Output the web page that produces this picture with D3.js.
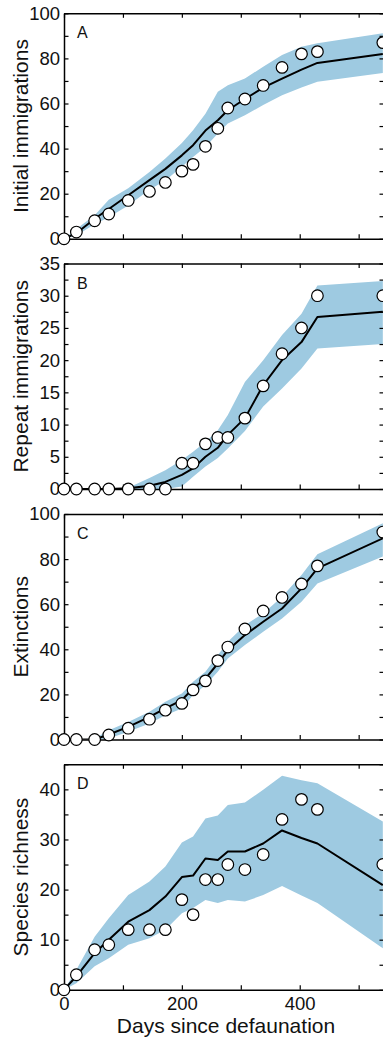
<!DOCTYPE html>
<html>
<head>
<meta charset="utf-8">
<script src="https://cdn.jsdelivr.net/npm/d3@7"></script>
<style>
  body { margin: 0; background: #fff; }
  svg { display: block; font-family: "Liberation Sans", Arial, sans-serif; }
</style>
</head>
<body>
<div id="chart"></div>
<script>
// census days (shared by all panels)
var days = [0, 21, 52, 76, 109, 145, 172, 200, 219, 240, 261, 278, 307, 338, 370, 403, 430, 541];

// A: initial immigrations
var obsA   = [0, 3, 8, 11, 17, 21, 25, 30, 33, 41, 49, 58, 62, 68, 76, 82, 83, 87];
var meanA  = [0, 2.5, 8.9, 13.2, 19.3, 26, 31, 37, 41.5, 48, 52.6, 57, 62, 67, 71, 75, 78, 82];
var hiA    = [0, 4.4, 10.4, 17.3, 22.4, 29.6, 35.6, 42.5, 48.1, 55.4, 65.2, 68.1, 71.1, 76.3, 81.5, 85.2, 86.7, 91.1];
var loA    = [0, 1.5, 6.4, 9.6, 14.8, 21.8, 25.9, 31.9, 36.3, 40.7, 46.7, 51.1, 54.8, 59.3, 63.7, 67.1, 69.6, 73.5];

// B: repeat immigrations
var obsB   = [0, 0, 0, 0, 0, 0, 0, 4, 4, 7, 8, 8, 11, 16, 21, 25, 30, 30];
var meanB  = [0, 0, 0, 0, 0.1, 0.5, 1.1, 2.2, 3.2, 5, 6.4, 8.4, 11, 16.1, 20, 22.8, 26.7, 27.5];
var hiB    = [0, 0, 0, 0, 0.2, 1.7, 2.9, 4.5, 5.8, 7.3, 9.1, 11.5, 16.6, 20, 23.9, 27.2, 31.6, 32.3];
var loB    = [0, 0, 0, 0, 0, 0, 0, 0.4, 1.9, 3.5, 4.8, 6.3, 9, 12.8, 15.6, 18.7, 21.8, 22.5];

// C: extinctions
var obsC   = [0, 0, 0, 2, 5, 9, 13, 16, 22, 26, 35, 41, 49, 57, 63, 69, 77, 92];
var meanC  = [0, 0, 0, 2.2, 5.6, 10, 13.8, 17.5, 22.6, 27, 33.7, 39.6, 46.3, 52.2, 58.1, 67, 75.9, 89.2];
var hiC    = [0, 0, 0.4, 4.1, 7.8, 12.3, 16.7, 20.4, 25.6, 30, 37.4, 43.3, 50.7, 55.9, 63.3, 72.9, 82.1, 95.9];
var loC    = [0, 0, 0, 0.4, 3.4, 7.1, 10.8, 13.8, 19.7, 24.1, 30, 35.9, 41.9, 47.8, 53.7, 61.1, 69.2, 81.1];

// D: species richness
var obsD   = [0, 3, 8, 9, 12, 12, 12, 18, 15, 22, 22, 25, 24, 27, 34, 38, 36, 25];
var meanD  = [0, 2.7, 7.3, 10, 13.6, 15.9, 18.6, 22.5, 22.8, 26.2, 25.9, 27.6, 27.6, 29.2, 31.8, 30.3, 29.2, 20.9];
var hiD    = [0, 4, 10.6, 14.3, 18.9, 21.6, 24.6, 29.4, 30.6, 34.2, 34.8, 36.9, 37.4, 39.9, 42.7, 41.8, 41.2, 33.6];
var loD    = [0, 1.3, 4.7, 6.3, 9, 10.3, 12, 15.3, 16.3, 17.9, 17.3, 17.9, 17.6, 18.9, 20.7, 18.8, 17.3, 8.3];

var panels = [
  { letter: "A", title: "Initial immigrations", max: 100, minor: 10, major: 20, obs: obsA, mean: meanA, hi: hiA, lo: loA },
  { letter: "B", title: "Repeat immigrations",  max: 35,  minor: 2.5, major: 5, obs: obsB, mean: meanB, hi: hiB, lo: loB },
  { letter: "C", title: "Extinctions",          max: 100, minor: 10, major: 20, obs: obsC, mean: meanC, hi: hiC, lo: loC },
  { letter: "D", title: "Species richness",     max: 45,  minor: 5,  major: 10, obs: obsD, mean: meanD, hi: hiD, lo: loD }
];

var W = 383, H = 1038;
var left = 64, right = 384;
var panelTop = [13.3, 263.5, 514, 764.3], panelH = 225.5;
var tickLen = 4.5;

var svg = d3.select("#chart").append("svg")
    .attr("width", W)
    .attr("height", H);

var x = d3.scaleLinear().domain([0, 543]).range([left, right]);
var xTicks = [0, 100, 200, 300, 400, 500];

panels.forEach(function(p, i) {
  var top = panelTop[i], bottom = top + panelH;
  var y = d3.scaleLinear().domain([0, p.max]).range([bottom, top]);
  var yTicks = d3.range(0, p.max + 0.001, p.minor);
  var isMajor = function(v) { return Math.abs(v / p.major - Math.round(v / p.major)) < 1e-6; };

  var g = svg.append("g");

  // clip so the band stays in the frame
  var clipId = "clip" + i;
  svg.append("clipPath").attr("id", clipId)
    .append("rect").attr("x", left).attr("y", top).attr("width", right - left).attr("height", panelH);

  var plot = g.append("g").attr("clip-path", "url(#" + clipId + ")");

  var area = d3.area()
      .x(function(d, j) { return x(days[j]); })
      .y0(function(d, j) { return y(p.lo[j]); })
      .y1(function(d, j) { return y(p.hi[j]); });

  plot.append("path")
      .datum(days)
      .attr("d", area)
      .attr("fill", "#9ecae1")
      .attr("stroke", "none");

  var line = d3.line()
      .x(function(d, j) { return x(days[j]); })
      .y(function(d) { return y(d); });

  plot.append("path")
      .datum(p.mean)
      .attr("d", line)
      .attr("fill", "none")
      .attr("stroke", "#000")
      .attr("stroke-width", 2)
      .attr("stroke-linejoin", "round");

  // axes (ticks pointing in)
  var showX = (i === 3);
  g.append("g")
      .attr("transform", "translate(0," + bottom + ")")
      .call(d3.axisBottom(x).tickValues(xTicks).tickSizeInner(-tickLen).tickSizeOuter(0).tickPadding(7)
        .tickFormat(function(d) { return showX && d % 200 === 0 ? d : ""; }));
  g.append("g")
      .attr("transform", "translate(0," + top + ")")
      .call(d3.axisTop(x).tickValues(xTicks).tickSizeInner(-tickLen).tickSizeOuter(0).tickFormat(""));
  g.append("g")
      .attr("transform", "translate(" + left + ",0)")
      .call(d3.axisLeft(y).tickValues(yTicks).tickSizeInner(-tickLen).tickSizeOuter(0).tickPadding(4)
        .tickFormat(function(d) { return isMajor(d) ? d : ""; }));
  g.append("g")
      .attr("transform", "translate(" + right + ",0)")
      .call(d3.axisRight(y).tickValues(yTicks).tickSizeInner(-tickLen).tickSizeOuter(0).tickFormat(""));

  g.selectAll(".domain").attr("stroke", "#000").attr("stroke-width", 1.5);
  g.selectAll(".tick line").attr("stroke", "#000").attr("stroke-width", 1.2);
  g.selectAll(".tick text")
      .attr("fill", "#111")
      .style("font-size", "18.5px")
      .style("font-family", "'Liberation Sans', Arial, sans-serif");

  // observed points
  g.append("g").selectAll("circle")
      .data(p.obs)
      .join("circle")
      .attr("cx", function(d, j) { return x(days[j]); })
      .attr("cy", function(d) { return y(d); })
      .attr("r", 5.8)
      .attr("fill", "#fff")
      .attr("stroke", "#000")
      .attr("stroke-width", 1.2);

  // panel letter
  g.append("text")
      .attr("x", 77)
      .attr("y", top + 25)
      .style("font-size", "16px")
      .attr("fill", "#111")
      .text(p.letter);

  // y title
  g.append("text")
      .attr("transform", "translate(28," + (top + panelH / 2) + ") rotate(-90)")
      .attr("text-anchor", "middle")
      .style("font-size", "21px")
      .attr("fill", "#111")
      .text(p.title);
});

svg.append("text")
    .attr("x", 226)
    .attr("y", 1032.5)
    .attr("text-anchor", "middle")
    .style("font-size", "21px")
    .attr("fill", "#111")
    .text("Days since defaunation");
</script>
</body>
</html>
